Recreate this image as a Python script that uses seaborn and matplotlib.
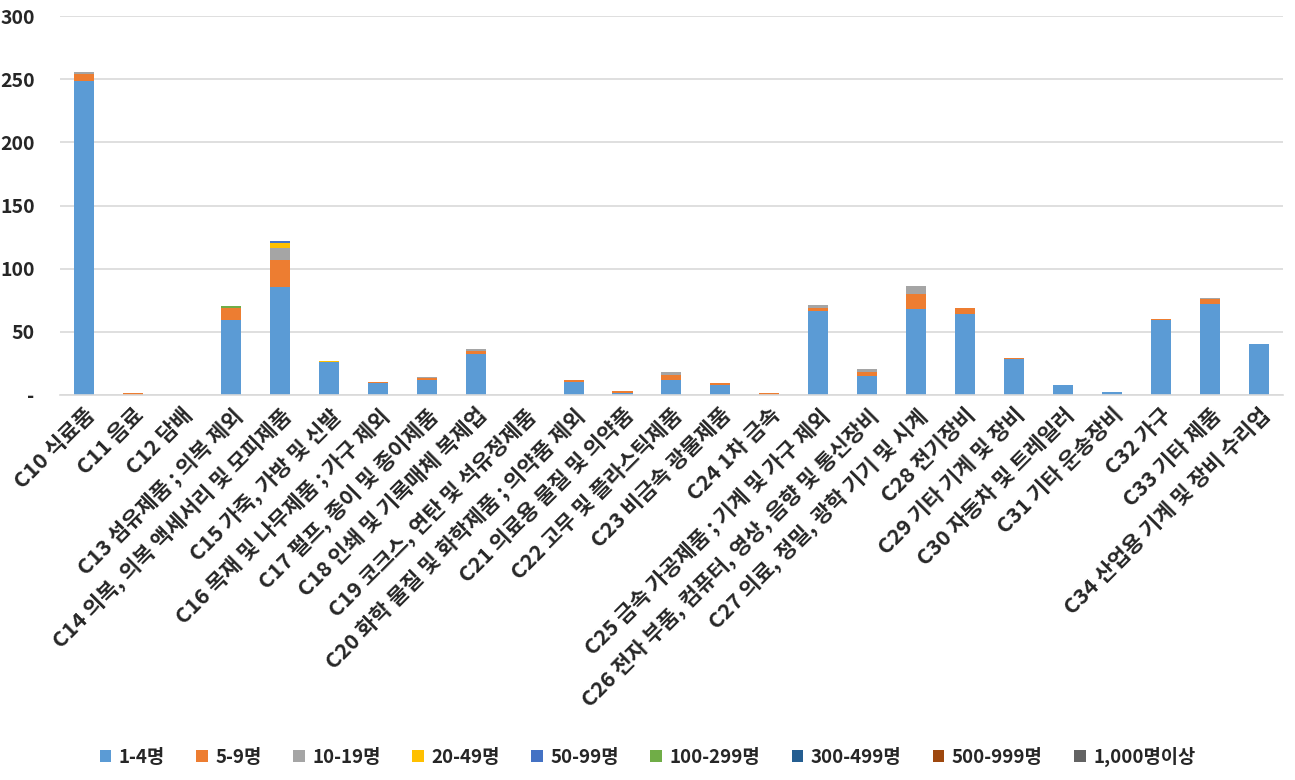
import numpy as np
import pandas as pd
import seaborn as sns
import matplotlib.pyplot as plt
from matplotlib.patches import Patch

industries = [
    "C10 식료품", "C11 음료", "C12 담배", "C13 섬유제품 ; 의복 제외",
    "C14 의복, 의복 액세서리 및 모피제품", "C15 가죽, 가방 및 신발",
    "C16 목재 및 나무제품 ; 가구 제외", "C17 펄프, 종이 및 종이제품",
    "C18 인쇄 및 기록매체 복제업", "C19 코크스, 연탄 및 석유정제품",
    "C20 화학 물질 및 화학제품 ; 의약품 제외", "C21 의료용 물질 및 의약품",
    "C22 고무 및 플라스틱제품", "C23 비금속 광물제품", "C24 1차 금속",
    "C25 금속 가공제품 ; 기계 및 가구 제외",
    "C26 전자 부품, 컴퓨터, 영상, 음향 및 통신장비",
    "C27 의료, 정밀, 광학 기기 및 시계", "C28 전기장비",
    "C29 기타 기계 및 장비", "C30 자동차 및 트레일러", "C31 기타 운송장비",
    "C32 가구", "C33 기타 제품", "C34 산업용 기계 및 장비 수리업",
]

size_labels = ["1-4명", "5-9명", "10-19명", "20-49명", "50-99명",
               "100-299명", "300-499명", "500-999명", "1,000명이상"]
size_colors = ["#5B9BD5", "#ED7D31", "#A5A5A5", "#FFC000", "#4472C4",
               "#70AD47", "#255E91", "#9E480E", "#636363"]

# counts per size class, one value per industry
n_1_4 = [249, 0, 0, 59, 85, 26, 9, 12, 32, 0, 10, 1, 12, 8, 0,
         66, 15, 68, 64, 28, 8, 2, 59, 72, 40]
n_5_9 = [5, 1, 0, 10, 22, 0, 1, 1, 3, 0, 2, 2, 4, 1, 1,
         3, 3, 12, 5, 1, 0, 0, 1, 4, 0]
n_10_19 = [2, 0, 0, 0, 9, 0, 0, 1, 1, 0, 0, 0, 2, 0, 0,
           2, 2, 6, 0, 0, 0, 0, 0, 1, 0]
n_20_49 = [0, 0, 0, 0, 4, 1, 0, 0, 0, 0, 0, 0, 0, 0, 0,
           0, 0, 0, 0, 0, 0, 0, 0, 0, 0]
n_50_99 = [0, 0, 0, 0, 2, 0, 0, 0, 0, 0, 0, 0, 0, 0, 0,
           0, 0, 0, 0, 0, 0, 0, 0, 0, 0]
n_100_299 = [0, 0, 0, 1, 0, 0, 0, 0, 0, 0, 0, 0, 0, 0, 0,
             0, 0, 0, 0, 0, 0, 0, 0, 0, 0]
n_300_499 = [0] * 25
n_500_999 = [0] * 25
n_1000 = [0] * 25

series = [n_1_4, n_5_9, n_10_19, n_20_49, n_50_99,
          n_100_299, n_300_499, n_500_999, n_1000]

sns.set_style("white")
plt.rcParams["font.family"] = ["Noto Sans CJK KR", "DejaVu Sans"]
plt.rcParams["font.weight"] = "bold"

fig, ax = plt.subplots(figsize=(12.95, 7.8), dpi=100)
fig.subplots_adjust(left=0.046, right=0.991, top=0.979, bottom=0.494)

# stacked bars: draw cumulative totals from the top class down
cum = np.cumsum(np.array(series), axis=0)
for i in range(len(series) - 1, -1, -1):
    df = pd.DataFrame({"industry": industries, "value": cum[i]})
    sns.barplot(data=df, x="industry", y="value", color=size_colors[i],
                saturation=1, width=0.41, ax=ax, zorder=2,
                linewidth=0, edgecolor="none")

ax.set_xlim(-0.5, 24.5)
ax.set_ylim(0, 300)
ax.set_yticks(range(0, 301, 50))
ax.set_yticklabels(["-"] + [str(v) for v in range(50, 301, 50)],
                   fontsize=14, fontweight="bold")
ax.yaxis.grid(True, color="#D9D9D9", linewidth=1.2, zorder=0)
ax.set_axisbelow(True)
for side in ["top", "right", "left"]:
    ax.spines[side].set_visible(False)
ax.spines["bottom"].set_color("#D9D9D9")
ax.spines["bottom"].set_linewidth(1.2)
ax.tick_params(axis="y", length=0, pad=18)
ax.tick_params(axis="x", length=0, pad=7)
ax.set_xticks(range(len(industries)))
ax.set_xticklabels(industries, rotation=45, ha="right",
                   rotation_mode="anchor", fontsize=15.5, fontweight="bold")
ax.set_xlabel("")
ax.set_ylabel("")

handles = [Patch(facecolor=c, edgecolor="none") for c in size_colors]
fig.legend(handles, size_labels, loc="center", bbox_to_anchor=(0.5, 0.03),
           ncol=9, frameon=False, handlelength=0.6, handleheight=0.6,
           handletextpad=0.4, columnspacing=1.7,
           prop={"size": 13.5, "weight": "bold"})

fig.savefig("out.png", dpi=100)
